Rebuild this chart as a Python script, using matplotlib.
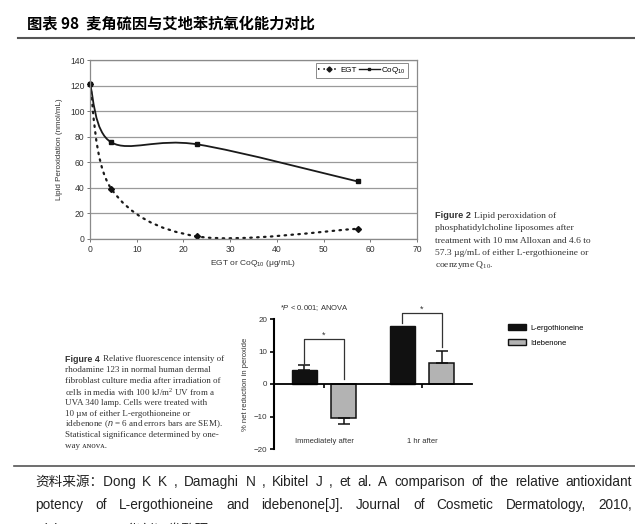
import matplotlib
matplotlib.use('Agg')
import matplotlib.pyplot as plt
from matplotlib.path import Path
from matplotlib.patches import PathPatch, Patch
from matplotlib.lines import Line2D

plt.rcParams['font.family'] = ['Liberation Sans', 'Noto Sans CJK SC']
plt.rcParams['mathtext.fontset'] = 'custom'
plt.rcParams['mathtext.rm'] = 'Liberation Sans'
plt.rcParams['mathtext.it'] = 'Liberation Sans:italic'

W, H = 635, 524

# figure 2: lipid peroxidation
conc = [0, 4.6, 23, 57.3]
egt = [121, 39, 2, 8]
coq = [121, 75.5, 74, 45]
top_yticks = [0, 20, 40, 60, 80, 100, 120, 140]
top_xticks = [0, 10, 20, 30, 40, 50, 60, 70]

# figure 4: % net reduction in peroxide
groups = ['Immediately after', '1 hr after']
ergo = [4.2, 17.8]
ergo_err = [1.6, 0.0]
ideb = [-10.4, 6.4]
ideb_err = [1.9, 3.8]
bot_yticks = [-20, -10, 0, 10, 20]

title = '图表 98  麦角硫因与艾地苯抗氧化能力对比'
source = ['资料来源：Dong K K , Damaghi N , Kibitel J , et al. A comparison of the relative antioxidant',
          'potency of L-ergothioneine and idebenone[J]. Journal of Cosmetic Dermatology, 2010,',
          '9(2):132-136，华创证券整理']

fig = plt.figure(figsize=(W / 100, H / 100), dpi=100)


def fx(x):
    return x / W


def fy(y):
    return 1 - y / H


def smooth_path(xs, ys):
    # catmull-rom style bezier, like the excel "smoothed line"
    pts = list(zip(xs, ys))
    verts = [pts[0]]
    codes = [Path.MOVETO]
    n = len(pts)
    for i in range(n - 1):
        p0 = pts[i - 1] if i > 0 else pts[i]
        p1 = pts[i]
        p2 = pts[i + 1]
        p3 = pts[i + 2] if i + 2 < n else pts[i + 1]
        c1 = (p1[0] + (p2[0] - p0[0]) / 6, p1[1] + (p2[1] - p0[1]) / 6)
        c2 = (p2[0] - (p3[0] - p1[0]) / 6, p2[1] - (p3[1] - p1[1]) / 6)
        verts += [c1, c2, p2]
        codes += [Path.CURVE4] * 3
    return Path(verts, codes)


# ---- header / footer
fig.text(fx(27), fy(23), title, fontsize=11, fontweight='bold',
         family=['Noto Sans CJK SC'], va='center', ha='left')
fig.add_artist(Line2D([fx(18), 1], [fy(38), fy(38)], color='#555555', lw=1.5))
fig.add_artist(Line2D([fx(14), 1], [fy(466), fy(466)], color='#555555', lw=1.2))

rend = fig.canvas.get_renderer()


def justify(y, line, x0, x1, **kw):
    words = line.split(' ')
    texts = [fig.text(0, fy(y), w, va='center', ha='left', **kw) for w in words]
    widths = [t.get_window_extent(rend).width for t in texts]
    gap = ((x1 - x0) - sum(widths)) / (len(words) - 1)
    x = x0
    for t, w in zip(texts, widths):
        t.set_x(fx(x))
        x += w + gap


justify(482, source[0], 35, 632, fontsize=9.8, color='#222222')
justify(505, source[1], 35, 632, fontsize=9.8, color='#222222')
fig.text(fx(35), fy(530), source[2], fontsize=9.8, color='#222222', va='center')

# ---- top chart
ax1 = fig.add_axes([fx(90), fy(239), fx(417 - 90), (239 - 60) / H])
ax1.set_xlim(0, 70)
ax1.set_ylim(0, 140)
ax1.set_yticks(top_yticks)
ax1.set_xticks(top_xticks)
ax1.yaxis.grid(True, color='#9a9a9a', lw=0.9)
ax1.set_axisbelow(True)
for s in ax1.spines.values():
    s.set_color('#8a8a8a')
    s.set_linewidth(0.9)
ax1.tick_params(labelsize=6.2, length=2.5, width=0.7, color='#777777', labelcolor='#333333', pad=1.5)
ax1.set_ylabel('Lipid Peroxidation (nmol/mL)', fontsize=5.8, color='#333333', labelpad=5)
ax1.set_xlabel(r'EGT or CoQ$_{\mathregular{10}}$ (μg/mL)', fontsize=6.0, color='#333333', labelpad=3)

ax1.add_patch(PathPatch(smooth_path(conc, coq), fill=False, color='#1a1a1a', lw=1.3))
ax1.add_patch(PathPatch(smooth_path(conc, egt), fill=False, color='#1a1a1a', lw=1.6,
                        linestyle=(0, (0.7, 2.4)), capstyle='round'))
ax1.plot(conc, coq, 's', color='#111111', ms=2.2, ls='none', clip_on=False)
ax1.plot(conc, egt, 'D', color='#111111', ms=3.0, ls='none', clip_on=False)

hnd = [Line2D([], [], color='#1a1a1a', lw=1.3, ls=(0, (0.8, 2.2)), marker='D', ms=2.6),
       Line2D([], [], color='#1a1a1a', lw=1.0, marker='s', ms=2.0)]
leg = ax1.legend(hnd, ['EGT', r'CoQ$_{\mathregular{10}}$'], ncol=2, fontsize=5.8,
                 loc='upper right', bbox_to_anchor=(fx(408), fy(63)), bbox_transform=fig.transFigure,
                 borderaxespad=0, fancybox=False, framealpha=1, edgecolor='#8a8a8a',
                 handlelength=2.6, handletextpad=0.2, columnspacing=0.2, borderpad=0.25)
leg.get_frame().set_linewidth(0.7)

# caption figure 2
cap2 = ['phosphatidylcholine liposomes after',
        'treatment with 10 mᴍ Alloxan and 4.6 to',
        '57.3 µg/mL of either L-ergothioneine or',
        r'coenzyme Q$_{\mathregular{10}}$.']
serif = dict(family=['Liberation Serif', 'DejaVu Serif'], fontsize=6.8, color='#333333', va='center')
t = fig.text(fx(435), fy(216), 'Figure 2', fontweight='bold', fontsize=6.6, color='#333333', va='center')
wb = t.get_window_extent(rend).width
fig.text(fx(435 + wb + 3), fy(216), 'Lipid peroxidation of', **serif)
for i, line in enumerate(cap2):
    fig.text(fx(435), fy(216 + 12.3 * (i + 1)), line, **serif)

# ---- bottom chart
ax2 = fig.add_axes([fx(274), fy(449), fx(472 - 274), (449 - 319) / H])
xs = list(range(len(groups)))
off, bw = 0.2, 0.255
x_e = [x - off for x in xs]
x_i = [x + off for x in xs]
ax2.bar(x_e, ergo, bw, color='#111111', edgecolor='#111111', lw=1)
ax2.bar(x_i, ideb, bw, color='#b3b3b3', edgecolor='#111111', lw=1.1)
for x, v, e in zip(x_e, ergo, ergo_err):
    if e > 0:
        ax2.errorbar(x, v, yerr=[[0], [e]], color='#111111', capsize=4, elinewidth=1.1, capthick=1.1)
for x, v, e in zip(x_i, ideb, ideb_err):
    yerr = [[0], [e]] if v > 0 else [[e], [0]]
    ax2.errorbar(x, v, yerr=yerr, color='#111111', capsize=4, elinewidth=1.1, capthick=1.1)

ax2.set_xlim(-0.51, 1.51)
ax2.set_ylim(-20, 20)
ax2.set_yticks(bot_yticks)
ax2.set_yticklabels([str(v).replace('-', '−') for v in bot_yticks])
ax2.set_xticks(xs)
ax2.set_xticklabels([])
ax2.spines['top'].set_visible(False)
ax2.spines['right'].set_visible(False)
ax2.spines['bottom'].set_position(('data', 0))
ax2.spines['bottom'].set_linewidth(1.3)
ax2.spines['left'].set_linewidth(1.5)
ax2.tick_params(axis='y', labelsize=5.8, length=3, width=1.2, pad=2, labelcolor='#333333')
ax2.tick_params(axis='x', length=3, width=1.2)
ax2.set_ylabel('% net reduction in peroxide', fontsize=5.5, color='#333333', labelpad=3)
for x, g in zip(xs, groups):
    ax2.text(x, -17.8, g, fontsize=5.5, ha='center', va='center', color='#333333')

# significance brackets
br_top = [13.8, 21.7]
br_left = [5.8, 18.8]
br_right = [1.4, 11.4]
for i in range(len(groups)):
    ax2.plot([x_e[i], x_e[i], x_i[i], x_i[i]], [br_left[i], br_top[i], br_top[i], br_right[i]],
             color='#333333', lw=0.9, clip_on=False)
    ax2.text(xs[i], br_top[i] + 1.3, '*', fontsize=6.5, ha='center', va='center', color='#333333')
ax2.text(-0.45, 23.3, r'*$P$ < 0.001; ANOVA', fontsize=5.5, ha='left', va='center', color='#333333')

ax2.legend([Patch(facecolor='#111111', edgecolor='#111111'),
            Patch(facecolor='#b3b3b3', edgecolor='#111111')],
           ['L-ergothioneine', 'Idebenone'], fontsize=5.5, loc='upper left',
           bbox_to_anchor=(fx(505), fy(321)), bbox_transform=fig.transFigure, frameon=False,
           borderaxespad=0, handlelength=2.4, handleheight=0.9, handletextpad=0.5, labelspacing=0.9)

# caption figure 4
cap4 = ['rhodamine 123 in normal human dermal',
        'fibroblast culture media after irradiation of',
        'cells in media with 100 kJ/m$^{\\mathregular{2}}$ UV from a',
        'UVA 340 lamp. Cells were treated with',
        '10 µᴍ of either L-ergothioneine or',
        'idebenone ($n$ = 6 and errors bars are SEM).',
        'Statistical significance determined by one-',
        'way ᴀɴᴏᴠᴀ.']
serif4 = dict(serif, fontsize=6.5)
t = fig.text(fx(65), fy(359), 'Figure 4', fontweight='bold', fontsize=6.4, color='#333333', va='center')
wb = t.get_window_extent(rend).width
fig.text(fx(65 + wb + 3), fy(359), 'Relative fluorescence intensity of', **serif4)
for i, line in enumerate(cap4):
    fig.text(fx(65), fy(359 + 10.9 * (i + 1)), line, **serif4)

fig.savefig('out.png', dpi=100)
